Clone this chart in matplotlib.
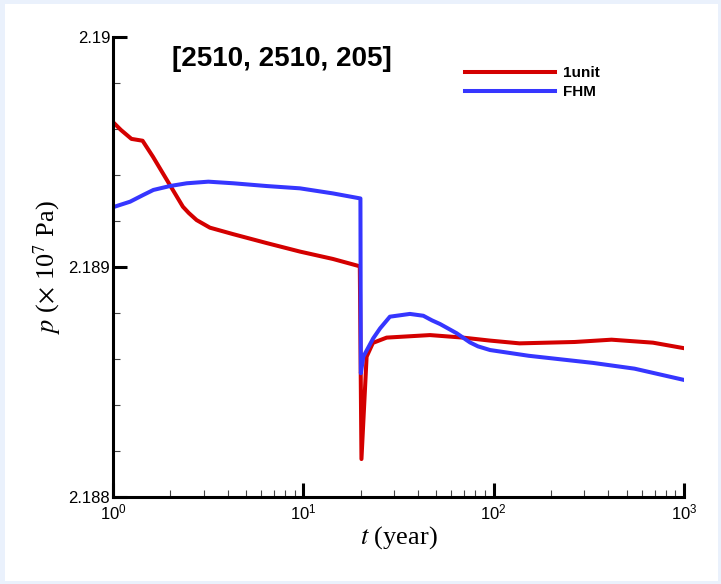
import numpy as np
import matplotlib.pyplot as plt
from matplotlib.patches import Rectangle
from matplotlib.ticker import LogLocator, FixedLocator, NullFormatter

# pressure history, 1unit model
t_unit = [1.0, 1.1, 1.25, 1.43, 1.62, 1.92, 2.33, 2.5, 2.75, 3.23, 4.27,
          6.42, 9.6, 14.3, 19.8, 20.2, 21.5, 23.2, 27.4, 46.3, 69.0, 95.7,
          136.7, 266.7, 416.0, 687.0, 1000.0]
p_unit = [2.18963, 2.189596, 2.189557, 2.189549, 2.18948, 2.189378,
          2.189262, 2.189235, 2.189204, 2.189171, 2.189143, 2.189104,
          2.189067, 2.189035, 2.189003, 2.188165, 2.18861, 2.18867,
          2.188693, 2.188704, 2.188693, 2.18868, 2.188668, 2.188674,
          2.188684, 2.188671, 2.188647]

# pressure history, FHM model
t_fhm = [1.0, 1.23, 1.44, 1.63, 1.99, 2.44, 3.17, 4.29, 6.42, 9.6, 14.3,
         19.95, 20.05, 20.66, 23.3, 25.3, 28.5, 36.3, 42.7, 47.4, 52.3,
         63.9, 75.1, 82.7, 95.7, 152.8, 332.7, 549.5, 1000.0]
p_fhm = [2.18926, 2.189284, 2.189313, 2.189335, 2.189352, 2.189364,
         2.189371, 2.189364, 2.189352, 2.189342, 2.18932, 2.189298,
         2.188538, 2.18861, 2.18869, 2.188733, 2.188784, 2.188796,
         2.188788, 2.188768, 2.188752, 2.188712, 2.188672, 2.188655,
         2.188639, 2.188614, 2.188583, 2.188558, 2.188509]

y_major = [2.188, 2.189, 2.19]
y_major_labels = ['2.188', '2.189', '2.19']
y_minor = [2.1882, 2.1884, 2.1886, 2.1888, 2.1892, 2.1894, 2.1896, 2.1898]

plt.rcParams['mathtext.fontset'] = 'custom'
plt.rcParams['mathtext.rm'] = 'Liberation Sans'
plt.rcParams['mathtext.it'] = 'Liberation Sans:italic'

fig = plt.figure(figsize=(7.21, 5.84), dpi=100, facecolor='#eaf1fc')
# white page inside a thin pale-blue frame
fig.patches.append(Rectangle((5 / 721, 3 / 584), 713 / 721, 577 / 584,
                             transform=fig.transFigure, facecolor='white',
                             edgecolor='none', zorder=-10))

ax = fig.add_axes([113 / 721, 1 - 497 / 584, 571 / 721, 460 / 584])
ax.set_facecolor('none')

ax.plot(t_unit, p_unit, color='#d40000', lw=2.9, label='1unit')
ax.plot(t_fhm, p_fhm, color='#3636ff', lw=2.9, label='FHM')

ax.set_xscale('log')
ax.set_xlim(1, 1000)
ax.set_ylim(2.188, 2.19)

for side in ('top', 'right'):
    ax.spines[side].set_visible(False)
for side in ('left', 'bottom'):
    ax.spines[side].set_linewidth(2.2)

ax.xaxis.set_major_locator(LogLocator(base=10, numticks=10))
ax.xaxis.set_minor_locator(LogLocator(base=10, subs=np.arange(2, 10),
                                      numticks=10))
ax.xaxis.set_minor_formatter(NullFormatter())
ax.yaxis.set_major_locator(FixedLocator(y_major))
ax.set_yticklabels(y_major_labels)
ax.yaxis.set_minor_locator(FixedLocator(y_minor))

ax.tick_params(which='major', direction='in', length=10, width=2.2,
               labelsize=12, colors='black', pad=2)
ax.tick_params(axis='x', which='major', pad=4)
ax.tick_params(which='minor', direction='in', length=5, width=0.8,
               color='#444444')
for lab in ax.get_xticklabels() + ax.get_yticklabels():
    lab.set_family('Liberation Sans')

ax.set_xlabel(r'$t$ (year)', family='Liberation Serif', fontsize=19,
              math_fontfamily='stix', labelpad=1)
ax.set_ylabel(r'$p$ ($\times$ 10$^7$ Pa)', family='Liberation Serif',
              fontsize=19, math_fontfamily='stix', labelpad=4)

ax.text(0.295, 0.952, '[2510, 2510, 205]', transform=ax.transAxes,
        ha='center', va='center', fontsize=20, fontweight='bold',
        family='Liberation Sans')

ax.legend(loc='upper left', bbox_to_anchor=(465 / 721, 1 - 66 / 584),
          bbox_transform=fig.transFigure, frameon=False, borderpad=0,
          borderaxespad=0, handlelength=5.9, handletextpad=0.5,
          labelspacing=0.35,
          prop={'family': 'Liberation Sans', 'weight': 'bold', 'size': 11})

fig.savefig('out.png', dpi=100, facecolor=fig.get_facecolor())
